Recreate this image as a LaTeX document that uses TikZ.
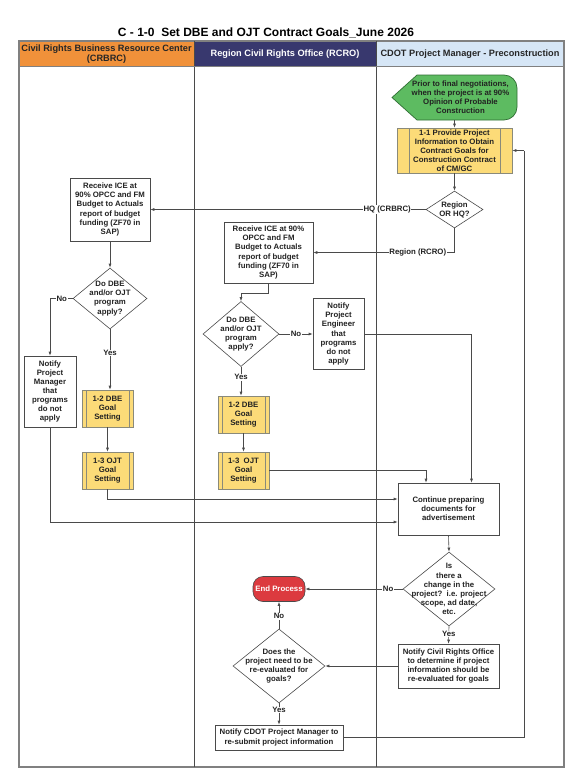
\documentclass[tikz,border=0pt]{standalone}
\usepackage{fontspec}
\setmainfont{Liberation Sans}
\usetikzlibrary{shapes.geometric,arrows.meta,calc}
\definecolor{hdrorange}{HTML}{F0913A}
\definecolor{hdrnavy}{HTML}{38386E}
\definecolor{hdrblue}{HTML}{D6E6F6}
\definecolor{startgreen}{HTML}{5DBB61}
\definecolor{startedge}{HTML}{2F6E33}
\definecolor{procyellow}{HTML}{FCDB78}
\definecolor{procedge}{HTML}{8A8A7A}
\definecolor{endred}{HTML}{DC3A3F}
\definecolor{linegray}{HTML}{4A4A4A}
\definecolor{framegray}{HTML}{808080}
\definecolor{txtgray}{HTML}{222222}
\begin{document}
\begin{tikzpicture}[x=1pt,y=-1pt,
  txt/.style={font=\bfseries\fontsize{7.8}{9.1}\selectfont, align=center, text=txtgray},
  hdr/.style={font=\bfseries\fontsize{9.2}{10.6}\selectfont, align=center},
  box/.style={txt, draw=linegray, fill=white, line width=0.6pt, inner sep=1pt},
  proc/.style={box, fill=procyellow, draw=procedge,
    path picture={\draw[procedge, line width=0.5pt]
      ([xshift=#1]path picture bounding box.north west) -- ([xshift=#1]path picture bounding box.south west)
      ([xshift=-#1]path picture bounding box.north east) -- ([xshift=-#1]path picture bounding box.south east);}},
  proc/.default=4pt,
  dia/.style={diamond, draw=linegray, fill=white, line width=0.6pt, inner sep=0pt},
  conn/.style={draw=linegray, line width=0.6pt, -{Latex[length=4pt,width=3pt]}},
  plain/.style={draw=linegray, line width=0.6pt},
  lbl/.style={txt, fill=white, inner sep=0.6pt},
]
\useasboundingbox (0,0) rectangle (567,768);
\fill[white] (0,0) rectangle (567,768);

% title
\node[font=\bfseries\fontsize{12}{14}\selectfont] (title) at (266,33) {C - 1-0\ \ Set DBE and OJT Contract Goals\_June 2026};

% lane headers
\fill[hdrorange] (19,41) rectangle (194,67);
\fill[hdrnavy] (194,41) rectangle (376,67);
\fill[hdrblue] (376,41) rectangle (564,67);
\node[hdr, text=black!85] (h1) at (106.5,54) {Civil Rights Business Resource Center\\(CRBRC)};
\node[hdr, text=white] (h2) at (285,54) {Region Civil Rights Office (RCRO)};
\node[hdr, text=black!85] (h3) at (470,54) {CDOT Project Manager - Preconstruction};

% lanes frame
\draw[framegray, line width=1.2pt] (19,41) rectangle (564,767);
\draw[linegray, line width=0.7pt] (194,41) -- (194,767) (376,41) -- (376,767);
\draw[framegray, line width=1pt] (19,67) -- (564,67);

% start terminator
\draw[startedge, fill=startgreen, line width=0.7pt]
  (392,97.5) -- (417,75) [rounded corners=13pt] -- (517,75) -- (517,120) [sharp corners] -- (417,120) -- cycle;
\node[txt, minimum width=125pt, minimum height=45pt, inner sep=0pt] (start) at (454.5,97.5)
  {\hspace*{12pt}Prior to final negotiations,\\\hspace*{12pt}when the project is at 90\%\\\hspace*{12pt}Opinion of Probable\\\hspace*{12pt}Construction};

% CDOT lane
\node[proc=12pt, minimum width=115pt, minimum height=45pt] (p11) at (454.5,150.5)
  {1-1 Provide Project\\Information to Obtain\\Contract Goals for\\Construction Contract\\of CM/GC};
\node[dia, minimum width=57pt, minimum height=37pt] (region) at (454.5,209.5) {};
\node[txt] (region-t) at (454.5,209.5) {Region\\OR HQ?};

% CRBRC lane
\node[box, minimum width=80pt, minimum height=63pt] (crecv) at (110,209.5)
  {Receive ICE at\\90\% OPCC and FM\\Budget to Actuals\\report of budget\\funding (ZF70 in\\SAP)};
\node[dia, minimum width=74pt, minimum height=61pt] (cdo) at (110,298.5) {};
\node[txt] (cdo-t) at (110,298.5) {Do DBE\\and/or OJT\\program\\apply?};
\node[box, minimum width=52pt, minimum height=71pt] (cnotify) at (50,391.5)
  {Notify\\Project\\Manager\\that\\programs\\do not\\apply};
\node[proc, minimum width=51pt, minimum height=37pt] (cdbe) at (107.5,408.5) {1-2 DBE\\Goal\\Setting};
\node[proc, minimum width=51pt, minimum height=37pt] (cojt) at (107.5,470.5) {1-3 OJT\\Goal\\Setting};

% RCRO lane
\node[box, minimum width=89pt, minimum height=61pt] (rrecv) at (268.5,252.5)
  {Receive ICE at 90\%\\OPCC and FM\\Budget to Actuals\\report of budget\\funding (ZF70 in\\SAP)};
\node[dia, minimum width=76pt, minimum height=65pt] (rdo) at (241,334) {};
\node[txt] (rdo-t) at (241,334) {Do DBE\\and/or OJT\\program\\apply?};
\node[box, minimum width=51pt, minimum height=71pt] (rnotify) at (338.5,334)
  {Notify\\Project\\Engineer\\that\\programs\\do not\\apply};
\node[proc, minimum width=51pt, minimum height=37pt] (rdbe) at (243.5,414.5) {1-2 DBE\\Goal\\Setting};
\node[proc, minimum width=51pt, minimum height=37pt] (rojt) at (243.5,470.5) {1-3\ \ OJT\\Goal\\Setting};

% lower part
\node[box, minimum width=101pt, minimum height=52pt] (cont) at (448.5,509)
  {Continue preparing\\documents for\\advertisement};
\node[dia, minimum width=92pt, minimum height=74pt] (change) at (449,589) {};
\node[txt] (change-t) at (449,589) {Is\\there a\\change in the\\project?\ \ i.e. project\\scope, ad date,\\etc.};
\node[txt, text=white, fill=endred, draw=linegray, line width=0.6pt, rounded corners=10pt,
  minimum width=52pt, minimum height=25pt, inner sep=1pt] (endp) at (279,589) {End Process};
\node[dia, minimum width=92pt, minimum height=74pt] (reeval) at (279,666) {};
\node[txt] (reeval-t) at (279,666) {Does the\\project need to be\\re-evaluated for\\goals?};
\node[box, minimum width=101pt, minimum height=44pt] (notifycr) at (448.5,666)
  {Notify Civil Rights Office\\to determine if project\\information should be\\re-evaluated for goals};
\node[box, minimum width=128pt, minimum height=25pt] (notifypm) at (279,737.5)
  {Notify CDOT Project Manager to\\re-submit project information};
\coordinate (loopc) at (524,150.5);

% connectors
\draw[conn] (start.south) -- (p11.north);
\draw[conn] (p11.south) -- (region.north);
\draw[conn] (region.west) -- (crecv.east) node[lbl, pos=0.14] (l-hq) {HQ (CRBRC)};
\draw[conn] (region.south) |- (rrecv.east) node[lbl, pos=0.63] (l-rg) {Region (RCRO)};
\draw[conn] (crecv.south) -- (cdo.north);
\draw[conn] (cdo.west) -| (cnotify.north) node[lbl, pos=0.24] (l-cno) {No};
\draw[conn] (cdo.south) -- (cdo.south |- cdbe.north) node[lbl, pos=0.39] (l-cyes) {Yes};
\draw[conn] (cdbe.south) -- (cojt.north);
\draw[conn] (cojt.south) |- ([yshift=10pt]cont.west);
\draw[conn] (cnotify.south) |- ([yshift=-13pt]cont.west);
\draw[conn] (rrecv.south) -- ++(0,10) -| (rdo.north);
\draw[conn] (rdo.east) -- (rnotify.west) node[lbl, pos=0.5] (l-rno) {No};
\draw[conn] (rdo.south) -- (rdo.south |- rdbe.north) node[lbl, pos=0.36] (l-ryes) {Yes};
\draw[conn] (rdbe.south) -- (rojt.north);
\draw[conn] (rojt.east) -| ([xshift=-22.5pt]cont.north);
\draw[conn] (rnotify.east) -| ([xshift=23pt]cont.north);
\draw[conn] (cont.south) -- (change.north);
\draw[conn] (change.west) -- (endp.east) node[lbl, pos=0.15] (l-chno) {No};
\draw[conn] (change.south) -- (notifycr.north) node[lbl, pos=0.45] (l-chyes) {Yes};
\draw[conn] (notifycr.west) -- (reeval.east);
\draw[conn] (reeval.north) -- (endp.south) node[lbl, pos=0.46] (l-reno) {No};
\draw[conn] (reeval.south) -- (notifypm.north) node[lbl, pos=0.32] (l-reyes) {Yes};
\draw[plain] (notifypm.east) -| (loopc);
\draw[conn] (loopc) -- (p11.east);
\end{tikzpicture}
\end{document}
